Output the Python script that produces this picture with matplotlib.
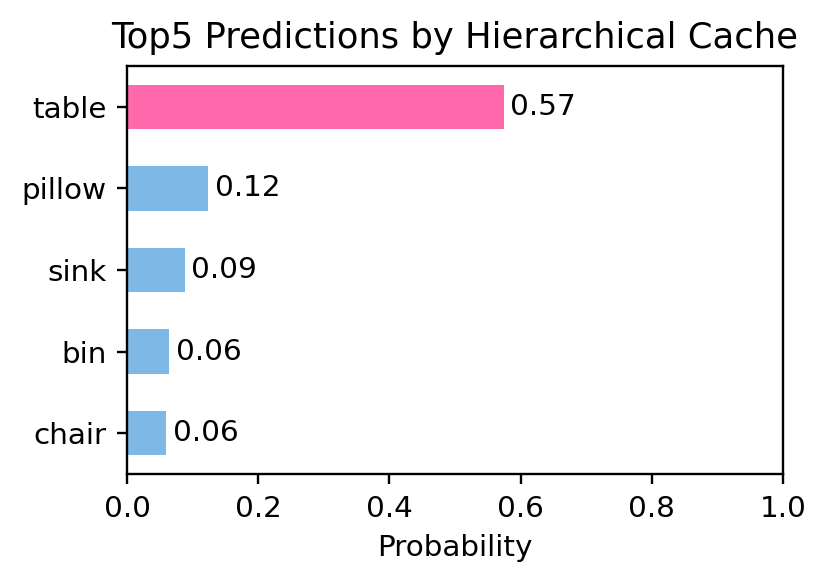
import matplotlib.pyplot as plt

labels = ["chair", "bin", "sink", "pillow", "table"]
probs = [0.060, 0.064, 0.088, 0.124, 0.574]
colors = ["#7EB8E7", "#7EB8E7", "#7EB8E7", "#7EB8E7", "#FF69AC"]

fig, ax = plt.subplots(figsize=(829 / 212, 585 / 212), dpi=212)
bars = ax.barh(labels, probs, height=0.55, color=colors)
for b, p in zip(bars, probs):
    ax.text(p + 0.01, b.get_y() + b.get_height() / 2, f"{p:.2f}",
            va="center", ha="left", fontsize=10)

ax.set_xlim(0, 1)
ax.set_xlabel("Probability", fontsize=10)
ax.set_title("Top5 Predictions by Hierarchical Cache", fontsize=12)
ax.tick_params(labelsize=10)

plt.subplots_adjust(left=0.1532, right=0.9445, top=0.8872, bottom=0.1897)
plt.savefig("out.png", dpi=212)
